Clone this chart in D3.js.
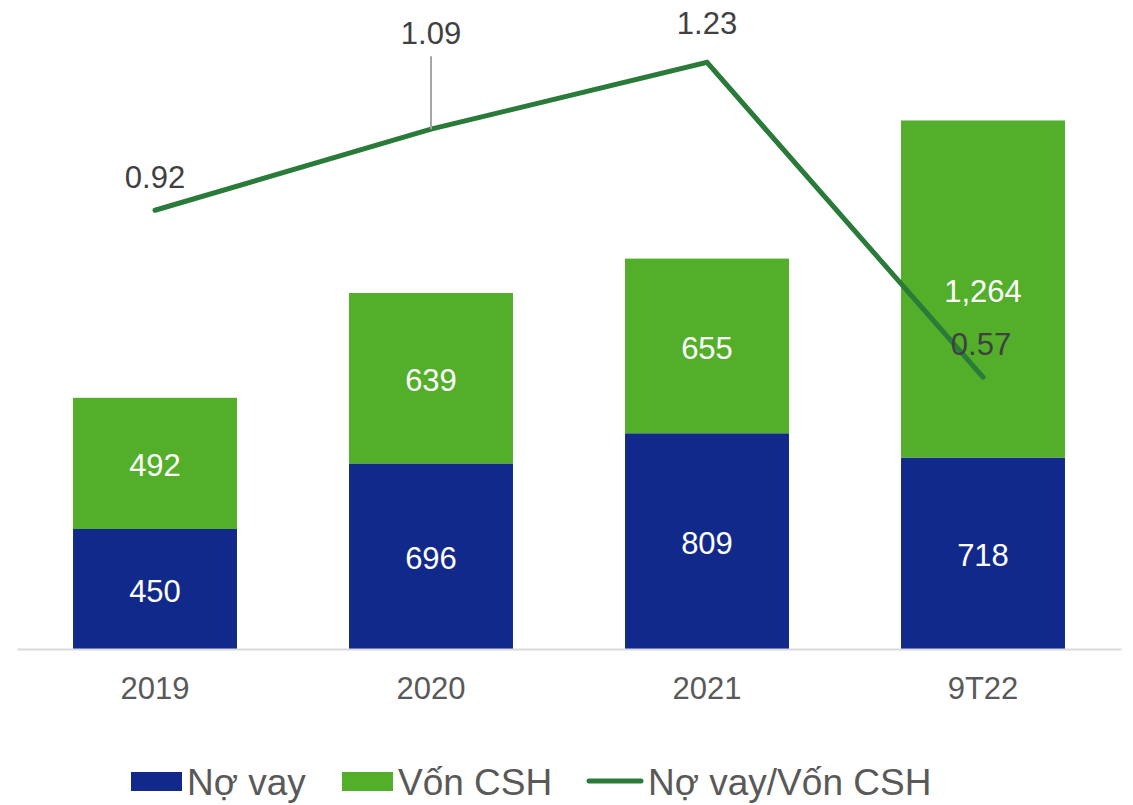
<!DOCTYPE html>
<html>
<head>
<meta charset="utf-8">
<script src="https://cdn.jsdelivr.net/npm/d3@7"></script>
<style>
  body { margin: 0; background: #fff; }
  svg text { font-family: "Liberation Sans", Arial, sans-serif; }
</style>
</head>
<body>
<div id="chart"></div>
<script>
'use strict';

// data
const categories = ['2019', '2020', '2021', '9T22'];
const noVay = [450, 696, 809, 718];
const vonCSH = [492, 639, 655, 1264];
const ratio = [0.92, 1.09, 1.23, 0.57];
const legendLabels = ['Nợ vay', 'Vốn CSH', 'Nợ vay/Vốn CSH'];

const colors = {debt: '#12298c', equity: '#53ae2a', line: '#2a7b3a'};

const width = 1133, height = 805;
const plot = {left: 17, right: 1121, top: 29, bottom: 649};

const svg = d3.select('#chart').append('svg')
    .attr('width', width)
    .attr('height', height);

// scales
const x = d3.scaleBand()
    .domain(categories)
    .range([plot.left, plot.right])
    .paddingInner(0.406)
    .paddingOuter(0.203);

const y = d3.scaleLinear()
    .domain([0, 2325])
    .range([plot.bottom, plot.top]);

const y2 = d3.scaleLinear()
    .domain([0, 1.3])
    .range([plot.bottom, plot.top]);

const rows = categories.map((c, i) => ({cat: c, debt: noVay[i], equity: vonCSH[i], ratio: ratio[i]}));
const stacked = d3.stack().keys(['debt', 'equity'])(rows);

// stacked bars
const layers = svg.selectAll('.layer')
    .data(stacked)
    .enter().append('g')
    .attr('fill', d => colors[d.key]);

layers.selectAll('rect')
    .data(d => d)
    .enter().append('rect')
    .attr('x', d => x(d.data.cat))
    .attr('y', d => y(d[1]))
    .attr('width', x.bandwidth())
    .attr('height', d => y(d[0]) - y(d[1]));

layers.selectAll('.val')
    .data(d => d)
    .enter().append('text')
    .attr('x', d => x(d.data.cat) + x.bandwidth() / 2)
    .attr('y', d => (y(d[0]) + y(d[1])) / 2 + 13)
    .attr('text-anchor', 'middle')
    .attr('fill', '#fff')
    .style('font-size', '31px')
    .text(d => d3.format(',')(d[1] - d[0]));

// x axis
const xAxis = svg.append('g')
    .attr('transform', 'translate(0,' + plot.bottom + ')')
    .call(d3.axisBottom(x).tickSize(0).tickPadding(28));
xAxis.select('.domain').attr('stroke', '#d9d9d9').attr('stroke-width', 2);
xAxis.selectAll('text')
    .attr('fill', '#595959')
    .style('font-size', '31px')
    .attr('dy', '0.71em');

// ratio line
const cx = d => x(d.cat) + x.bandwidth() / 2;
const line = d3.line()
    .x(cx)
    .y(d => y2(d.ratio));

svg.append('path')
    .datum(rows)
    .attr('d', line)
    .attr('fill', 'none')
    .attr('stroke', colors.line)
    .attr('stroke-width', 5)
    .attr('stroke-linecap', 'round')
    .attr('stroke-linejoin', 'miter');

// leader line for the 2020 label, it sits higher than the others
svg.append('line')
    .attr('x1', cx(rows[1]))
    .attr('x2', cx(rows[1]))
    .attr('y1', y2(rows[1].ratio))
    .attr('y2', y2(rows[1].ratio) - 73)
    .attr('stroke', '#a6a6a6')
    .attr('stroke-width', 2);

svg.selectAll('.ratio-label')
    .data(rows)
    .enter().append('text')
    .attr('x', d => cx(d) - (d.cat === '9T22' ? 2 : 0))
    .attr('y', (d, i) => y2(d.ratio) - (i === 1 ? 85 : (i === 2 ? 28 : 22)))
    .attr('text-anchor', 'middle')
    .attr('fill', '#404040')
    .style('font-size', '31px')
    .text(d => d3.format('.2f')(d.ratio));

// legend
const legend = svg.append('g').attr('transform', 'translate(0,795)');
const legendX = [131, 342, 587];
legendLabels.forEach((label, i) => {
  const g = legend.append('g').attr('transform', 'translate(' + legendX[i] + ',0)');
  if (i < 2) {
    g.append('rect')
        .attr('x', 0).attr('y', -23)
        .attr('width', 51).attr('height', 19)
        .attr('fill', i === 0 ? colors.debt : colors.equity);
  } else {
    g.append('line')
        .attr('x1', 2).attr('x2', 54)
        .attr('y1', -14).attr('y2', -14)
        .attr('stroke', colors.line)
        .attr('stroke-width', 5)
        .attr('stroke-linecap', 'round');
  }
  g.append('text')
      .attr('x', i < 2 ? 56 : 61)
      .attr('y', 0)
      .attr('fill', '#595959')
      .style('font-size', '37px')
      .text(label);
});
</script>
</body>
</html>
